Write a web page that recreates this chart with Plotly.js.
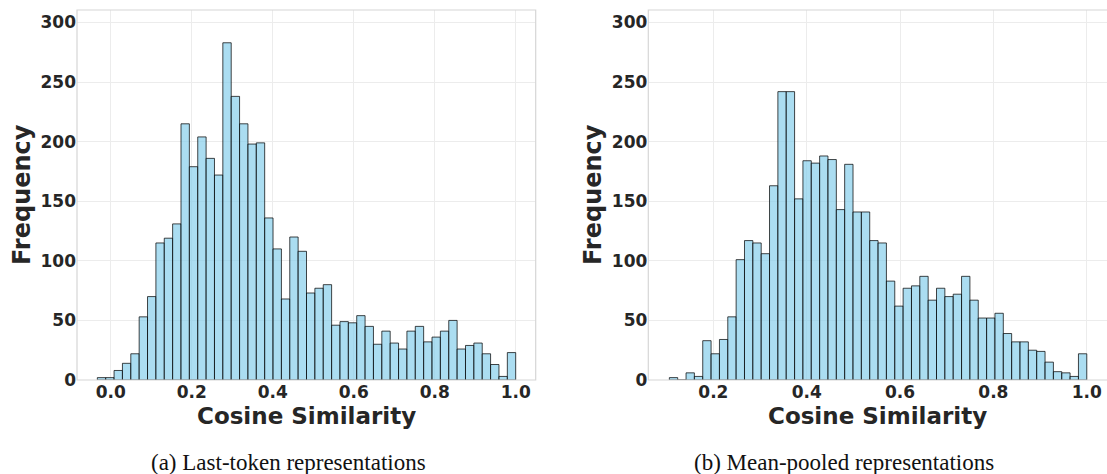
<!DOCTYPE html>
<html>
<head>
<meta charset="utf-8">
<script src="https://cdn.plot.ly/plotly-3.0.1.min.js"></script>
<style>html,body{margin:0;padding:0;background:#fff;}#chart{width:1107px;height:474px;}</style>
</head>
<body>
<div id="chart"></div>
<script>
// ---- data ----
const leftBinStart = -0.033;
const leftBinWidth = 0.02066;
const leftCounts = [2, 2, 8, 14, 22, 53, 70, 115, 119, 131,
  215, 179, 204, 186, 172, 283, 238, 215, 198, 199,
  136, 110, 68, 120, 108, 73, 77, 80, 46, 49,
  48, 54, 45, 30, 41, 31, 26, 41, 45, 32,
  36, 41, 50, 26, 29, 31, 22, 13, 3, 23];

const rightBinStart = 0.1057;
const rightBinWidth = 0.01789;
const rightCounts = [2, 0, 6, 3, 33, 22, 34, 53, 101, 117,
  115, 106, 163, 242, 242, 152, 184, 182, 188, 185,
  143, 181, 141, 141, 117, 115, 83, 62, 77, 79,
  87, 67, 77, 70, 72, 87, 67, 52, 52, 56,
  39, 32, 32, 25, 24, 15, 7, 6, 3, 22];

const xTicks = [0.0, 0.2, 0.4, 0.6, 0.8, 1.0];
const xTickText = ['0.0', '0.2', '0.4', '0.6', '0.8', '1.0'];
const yTicks = [0, 50, 100, 150, 200, 250, 300];
const xTitle = 'Cosine Similarity';
const yTitle = 'Frequency';
const captions = ['(a) Last-token representations', '(b) Mean-pooled representations'];

// ---- styling ----
const W = 1107, H = 474;
const px = v => v / W;
const py = v => 1 - v / H;
const barFill = 'rgba(135,206,235,0.7)';
const barEdge = 'rgba(0,0,0,0.72)';
const textColor = '#262626';
const tickFont = {family: 'DejaVu Sans', size: 17, color: textColor, weight: 'bold'};
const titleFont = {family: 'DejaVu Sans', size: 23, color: textColor, weight: 'bold'};
const yTitleFont = {family: 'DejaVu Sans', size: 24, color: textColor, weight: 'bold'};
const capFont = {family: 'Liberation Serif, DejaVu Serif, serif', size: 23, color: '#111'};

function barTrace(counts, start, width, xa, ya) {
  return {
    type: 'bar', y: counts, x0: start + width / 2, dx: width, width: width,
    xaxis: xa, yaxis: ya,
    marker: {color: barFill, line: {color: barEdge, width: 1}},
    hoverinfo: 'skip', showlegend: false
  };
}

const traces = [
  barTrace(leftCounts, leftBinStart, leftBinWidth, 'x', 'y'),
  barTrace(rightCounts, rightBinStart, rightBinWidth, 'x2', 'y2')
];

function xAxis(domain, range) {
  return {
    domain: domain, range: range, tickvals: xTicks, ticktext: xTickText,
    showgrid: true, gridcolor: '#ececec', gridwidth: 1, zeroline: false,
    showline: false, ticks: '', tickfont: tickFont, fixedrange: true
  };
}
function yAxis(anchor) {
  return {
    domain: [py(380), py(10)], range: [0, 310.5], tickvals: yTicks,
    showgrid: true, gridcolor: '#ececec', gridwidth: 1, zeroline: false,
    showline: false, ticks: '', tickfont: tickFont, anchor: anchor, fixedrange: true
  };
}

const frame = (xr, yr, x1) => ({
  type: 'rect', xref: xr, yref: yr, x0: 0, x1: x1, y0: 0, y1: 1,
  line: {color: '#d6d6d6', width: 1.2}, fillcolor: 'rgba(0,0,0,0)', layer: 'above'
});

const layout = {
  width: W, height: H,
  margin: {l: 0, r: 0, t: 0, b: 0},
  paper_bgcolor: '#fff', plot_bgcolor: '#fff',
  bargap: 0, showlegend: false,
  xaxis: xAxis([px(77), px(535.7)], [-0.0832, 1.0494]),
  yaxis: yAxis('x'),
  xaxis2: Object.assign(xAxis([px(648.3), 1], [0.0606, 1.0435]), {anchor: 'y2'}),
  yaxis2: yAxis('x2'),
  shapes: [frame('x domain', 'y domain', 1), frame('x2 domain', 'y2 domain', 1.01)],
  annotations: [
    {text: xTitle, xref: 'paper', yref: 'paper', x: px(306), y: py(416), showarrow: false, font: titleFont, xanchor: 'center', yanchor: 'middle'},
    {text: xTitle, xref: 'paper', yref: 'paper', x: px(878), y: py(416), showarrow: false, font: titleFont, xanchor: 'center', yanchor: 'middle'},
    {text: yTitle, xref: 'paper', yref: 'paper', x: px(22), y: py(195), showarrow: false, font: yTitleFont, textangle: -90, xanchor: 'center', yanchor: 'middle'},
    {text: yTitle, xref: 'paper', yref: 'paper', x: px(593), y: py(195), showarrow: false, font: yTitleFont, textangle: -90, xanchor: 'center', yanchor: 'middle'},
    {text: captions[0], xref: 'paper', yref: 'paper', x: px(288), y: py(462), showarrow: false, font: capFont, xanchor: 'center', yanchor: 'middle'},
    {text: captions[1], xref: 'paper', yref: 'paper', x: px(844), y: py(462), showarrow: false, font: capFont, xanchor: 'center', yanchor: 'middle'}
  ]
};

Plotly.newPlot('chart', traces, layout, {displayModeBar: false, staticPlot: true});
</script>
</body>
</html>
